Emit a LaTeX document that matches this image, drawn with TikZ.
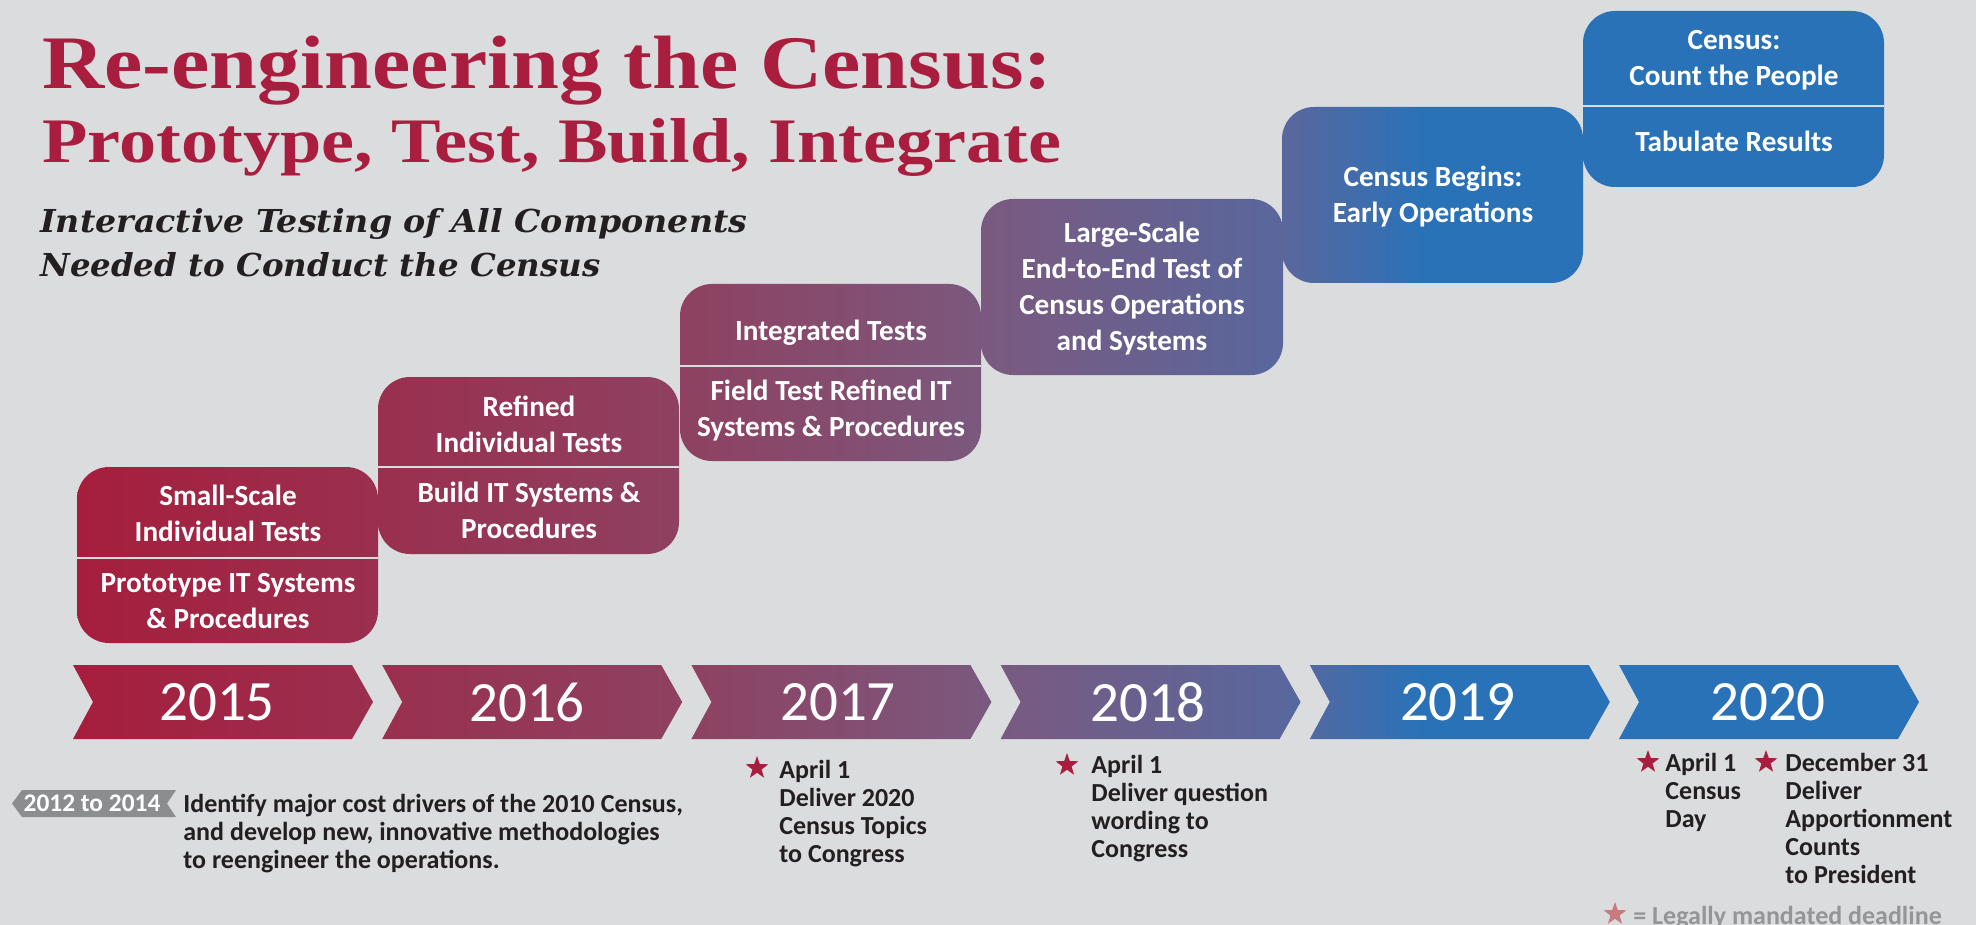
\documentclass[tikz,border=0pt]{standalone}
\usepackage{fontspec}
\usepackage{graphicx}
\setmainfont{Carlito}
\newfontfamily\titlefont{Liberation Serif}
\newfontfamily\subfont{DejaVu Serif}
\usetikzlibrary{shapes.geometric}
\definecolor{bg}{RGB}{219,220,222}
\definecolor{crimson}{RGB}{169,30,62}
\definecolor{darktext}{RGB}{35,31,32}
\definecolor{tagGray}{RGB}{140,141,143}
\definecolor{legendGray}{RGB}{147,149,152}
\definecolor{legendStar}{RGB}{201,122,126}
\definecolor{gA}{RGB}{166,30,61}
\definecolor{gB}{RGB}{142,66,98}
\definecolor{gC}{RGB}{121,90,128}
\definecolor{gD}{RGB}{88,103,158}
\definecolor{gE}{RGB}{42,114,184}
\pgfdeclarehorizontalshading{census}{100bp}{color(0bp)=(gA); color(27.02bp)=(gA); color(42.71bp)=(gB); color(50.3bp)=(gC); color(57.64bp)=(gD); color(60.93bp)=(gE); color(100bp)=(gE)}
\newcommand\toplines[1]{\begin{tabular}[t]{@{}l@{}}#1\end{tabular}}
\begin{document}
\begin{tikzpicture}[x=0.5pt,y=-0.5pt,
  boxtxt/.style={text=white, font=\fontsize{14.6}{18}\selectfont\bfseries, align=center, inner sep=0pt},
  yeartxt/.style={text=white, font=\fontsize{28.5}{30}\selectfont, inner sep=0pt},
  datetxt/.style={text=darktext, font=\fontsize{13}{14.1}\selectfont\bfseries, anchor=base west, inner sep=0pt},
  deadstar/.style={star, star points=5, star point ratio=2.5, fill=crimson, minimum size=12pt, inner sep=0pt},
  divider/.style={draw=bg, line width=1.2pt}]
\useasboundingbox (0,0) rectangle (1976,925);
\fill[bg] (0,0) rectangle (1976,925);

% title
\node[anchor=base west, inner sep=0pt, text=crimson] (t1) at (42,89)
  {\resizebox{505pt}{\height}{\titlefont\bfseries\fontsize{37.8}{40}\selectfont Re-engineering the Census:}};
\node[anchor=base west, inner sep=0pt, text=crimson] (t2) at (42,163)
  {\resizebox{509.5pt}{\height}{\titlefont\bfseries\fontsize{31.7}{34}\selectfont Prototype, Test, Build, Integrate}};
\node[anchor=base west, inner sep=0pt, text=darktext] (s1) at (40,233)
  {\resizebox{353.5pt}{\height}{\subfont\bfseries\itshape\fontsize{15.8}{18}\selectfont Interactive Testing of All Components}};
\node[anchor=base west, inner sep=0pt, text=darktext] (s2) at (40,277)
  {\resizebox{280pt}{\height}{\subfont\bfseries\itshape\fontsize{15.8}{18}\selectfont Needed to Conduct the Census}};

% boxes
\begin{scope}
\clip[rounded corners=16pt]
  (77,467) rectangle ++(301,176)
  (378,377) rectangle ++(301,177)
  (680,284) rectangle ++(301,177)
  (981,199) rectangle ++(302,176)
  (1282,107) rectangle ++(301,176)
  (1583,11) rectangle ++(301,176);
\shade[shading=census] (0,0) rectangle (1976,925);
\end{scope}

% chevrons
\begin{scope}
\clip (73,665) -- ++(279,0) -- ++(21,37) -- ++(-21,37) -- ++(-279,0) -- ++(20,-37) -- cycle
  (382.2,665) -- ++(279,0) -- ++(21,37) -- ++(-21,37) -- ++(-279,0) -- ++(20,-37) -- cycle
  (691.4,665) -- ++(279,0) -- ++(21,37) -- ++(-21,37) -- ++(-279,0) -- ++(20,-37) -- cycle
  (1000.6,665) -- ++(279,0) -- ++(21,37) -- ++(-21,37) -- ++(-279,0) -- ++(20,-37) -- cycle
  (1309.8,665) -- ++(279,0) -- ++(21,37) -- ++(-21,37) -- ++(-279,0) -- ++(20,-37) -- cycle
  (1619,665) -- ++(279,0) -- ++(21,37) -- ++(-21,37) -- ++(-279,0) -- ++(20,-37) -- cycle;
\shade[shading=census] (0,0) rectangle (1976,925);
\end{scope}

% dividers
\draw[divider] (77,558) -- (378,558);
\draw[divider] (378,467) -- (679,467);
\draw[divider] (680,366) -- (981,366);
\draw[divider] (1583,106) -- (1884,106);

% box texts
\node[boxtxt] (b1u) at (228,513) {Small-Scale\\Individual Tests};
\node[boxtxt] (b1l) at (228,601) {Prototype IT Systems\\\& Procedures};
\node[boxtxt] (b2u) at (529,424) {Refined\\Individual Tests};
\node[boxtxt] (b2l) at (529,510) {Build IT Systems \&\\Procedures};
\node[boxtxt] (b3u) at (831,333) {Integrated Tests};
\node[boxtxt] (b3l) at (831,411) {Field Test Refined IT\\Systems \& Procedures};
\node[boxtxt] (b4) at (1132,289) {Large-Scale\\End-to-End Test of\\Census Operations\\and Systems};
\node[boxtxt] (b5) at (1433,197) {Census Begins:\\Early Operations};
\node[boxtxt] (b6u) at (1734,60) {Census:\\Count the People};
\node[boxtxt] (b6l) at (1734,141) {Tabulate Results};

% years
\node[yeartxt] (y15) at (217,702) {2015};
\node[yeartxt] (y16) at (527,702) {2016};
\node[yeartxt] (y17) at (838,702) {2017};
\node[yeartxt] (y18) at (1148,702) {2018};
\node[yeartxt] (y19) at (1457.8,702) {2019};
\node[yeartxt] (y20) at (1768,702) {2020};

% 2012 to 2014 tag
\fill[tagGray] (22,790) -- (176,790) -- (167,803.5) -- (176,817) -- (22,817) -- (12,803.5) -- cycle;
\node[text=white, font=\fontsize{12.7}{14}\selectfont\bfseries, inner sep=0pt] (tag) at (92,803.5) {2012 to 2014};
\node[datetxt] (ident) at (183,812) {\toplines{Identify major cost drivers of the 2010 Census,\\and develop new, innovative methodologies\\to reengineer the operations.}};

% deadlines
\node[deadstar] (st17) at (757,768) {};
\node[datetxt] (d17) at (779,778) {\toplines{April 1\\Deliver 2020\\Census Topics\\to Congress}};
\node[deadstar] (st18) at (1067,765) {};
\node[datetxt] (d18) at (1091,773) {\toplines{April 1\\Deliver question\\wording to\\Congress}};
\node[deadstar] (st20a) at (1648,762) {};
\node[datetxt] (d20a) at (1665,771) {\toplines{April 1\\Census\\Day}};
\node[deadstar] (st20b) at (1766,762) {};
\node[datetxt] (d20b) at (1785,771) {\toplines{December 31\\Deliver\\Apportionment\\Counts\\to President}};

% legend
\node[deadstar, fill=legendStar] (lst) at (1615,914) {};
\node[datetxt, text=legendGray] (leg) at (1633,924) {= Legally mandated deadline};
\end{tikzpicture}
\end{document}
